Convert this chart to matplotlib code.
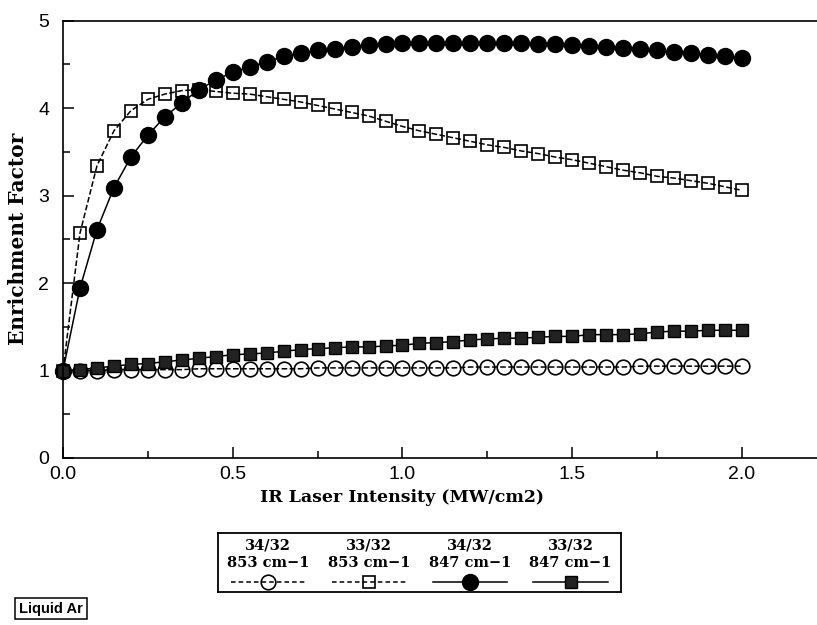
import numpy as np
import matplotlib
matplotlib.use('Agg')
from matplotlib import pyplot as plt
from matplotlib.ticker import MultipleLocator

# intensity grid, 0 to 2.0 step 0.05
intensity = np.round(np.arange(0, 2.0001, 0.05), 2)

# 34/32 at 853 cm-1 (open circles)
ef_34_853 = [1.00, 1.00, 1.00, 1.01, 1.01, 1.01, 1.01, 1.01, 1.02, 1.02, 1.02,
             1.02, 1.02, 1.02, 1.02, 1.03, 1.03, 1.03, 1.03, 1.03, 1.03,
             1.03, 1.03, 1.03, 1.04, 1.04, 1.04, 1.04, 1.04, 1.04, 1.04,
             1.04, 1.04, 1.04, 1.05, 1.05, 1.05, 1.05, 1.05, 1.05, 1.05]

# 33/32 at 853 cm-1 (open squares)
ef_33_853 = [1.00, 2.57, 3.34, 3.74, 3.97, 4.10, 4.16, 4.20, 4.21, 4.19, 4.17,
             4.16, 4.13, 4.10, 4.07, 4.03, 3.99, 3.95, 3.91, 3.85, 3.79,
             3.74, 3.70, 3.66, 3.62, 3.58, 3.55, 3.51, 3.48, 3.44, 3.41,
             3.37, 3.33, 3.29, 3.26, 3.22, 3.20, 3.17, 3.14, 3.10, 3.06]

# 34/32 at 847 cm-1 (filled circles)
ef_34_847 = [1.00, 1.94, 2.61, 3.09, 3.44, 3.69, 3.90, 4.06, 4.21, 4.32, 4.41,
             4.47, 4.53, 4.59, 4.63, 4.66, 4.68, 4.70, 4.72, 4.73, 4.74,
             4.74, 4.74, 4.74, 4.74, 4.74, 4.74, 4.74, 4.73, 4.73, 4.72,
             4.71, 4.70, 4.69, 4.67, 4.66, 4.64, 4.63, 4.61, 4.59, 4.57]

# 33/32 at 847 cm-1 (filled squares)
ef_33_847 = [1.00, 1.01, 1.03, 1.05, 1.07, 1.08, 1.10, 1.12, 1.14, 1.16, 1.18,
             1.19, 1.20, 1.22, 1.24, 1.25, 1.26, 1.27, 1.27, 1.28, 1.29,
             1.31, 1.32, 1.33, 1.35, 1.36, 1.37, 1.37, 1.38, 1.39, 1.39,
             1.41, 1.41, 1.41, 1.42, 1.44, 1.45, 1.45, 1.46, 1.46, 1.46]

legend_top = ['34/32', '33/32', '34/32', '33/32']
legend_bottom = ['853 cm\u22121', '853 cm\u22121', '847 cm\u22121', '847 cm\u22121']

serif = 'DejaVu Serif'
sans = 'Liberation Sans'

fig = plt.figure(figsize=(8.17, 6.25), dpi=100)
ax = fig.add_axes([63 / 817, 1 - 458 / 625, 1 - 63 / 817, (458 - 20.6) / 625])

styles = [
    dict(ls='--', marker='o', ms=10.5, mfc='none', mec='black', mew=1.2),
    dict(ls='--', marker='s', ms=9, mfc='none', mec='black', mew=1.2),
    dict(ls='-', marker='o', ms=11.5, mfc='black', mec='black', mew=1),
    dict(ls='-', marker='s', ms=9, mfc='#222222', mec='black', mew=1),
]
series = [ef_34_853, ef_33_853, ef_34_847, ef_33_847]

for vals, st in zip(series, styles):
    ax.plot(intensity, vals, color='black', lw=1.1, clip_on=False, **st)

ax.set_xlim(0, 2.221)
ax.set_ylim(0, 5)
ax.spines['right'].set_visible(False)
for s in ['left', 'bottom', 'top']:
    ax.spines[s].set_linewidth(1.2)

ax.set_xticks([0, 0.5, 1.0, 1.5, 2.0])
ax.xaxis.set_minor_locator(MultipleLocator(0.25))
ax.yaxis.set_major_locator(MultipleLocator(1))
ax.yaxis.set_minor_locator(MultipleLocator(0.5))
ax.tick_params(which='major', direction='in', length=8, width=1.1,
               labelsize=14, top=False, right=False)
ax.tick_params(which='minor', direction='in', length=5, width=1.1,
               top=False, right=False)
ax.tick_params(axis='x', pad=6)
ax.tick_params(axis='y', pad=10)
for lab in ax.get_xticklabels() + ax.get_yticklabels():
    lab.set_family(sans)

ax.set_xlabel('IR Laser Intensity (MW/cm2)', fontfamily=serif,
              fontweight='bold', fontsize=12.5)
ax.xaxis.set_label_coords((402 - 63) / (817 - 63), -0.072)
ax.set_ylabel('Enrichment Factor', fontfamily=serif, fontweight='bold',
              fontsize=14.5)
ax.yaxis.set_label_coords(-0.047, 0.5)

# legend box drawn as a small axes: labels above each line sample
lax = fig.add_axes([218 / 817, 1 - 592 / 625, (621 - 218) / 817, (592 - 533) / 625])
lax.set_xlim(0, 4)
lax.set_ylim(0, 1)
lax.set_xticks([])
lax.set_yticks([])
for s in lax.spines.values():
    s.set_linewidth(1.3)
for i, st in enumerate(styles):
    cx = i + 0.5
    lax.text(cx, 0.79, legend_top[i], ha='center', va='center',
             fontfamily=serif, fontweight='bold', fontsize=10.5)
    lax.text(cx, 0.49, legend_bottom[i], ha='center', va='center',
             fontfamily=serif, fontweight='bold', fontsize=10.5)
    lax.plot([cx - 0.37, cx + 0.37], [0.17, 0.17], color='black', lw=1.1,
             ls=st['ls'], dashes=(3, 2) if st['ls'] == '--' else (None, None))
    mk = {k: v for k, v in st.items() if k != 'ls'}
    lax.plot([cx], [0.17], color='black', **mk)

fig.text(19 / 817, 1 - 608.5 / 625, 'Liquid Ar', ha='left', va='center',
         fontfamily=sans, fontweight='bold', fontsize=10.5,
         bbox=dict(boxstyle='square,pad=0.25', fc='white', ec='black', lw=1.1))

fig.savefig('out.png', dpi=100)
